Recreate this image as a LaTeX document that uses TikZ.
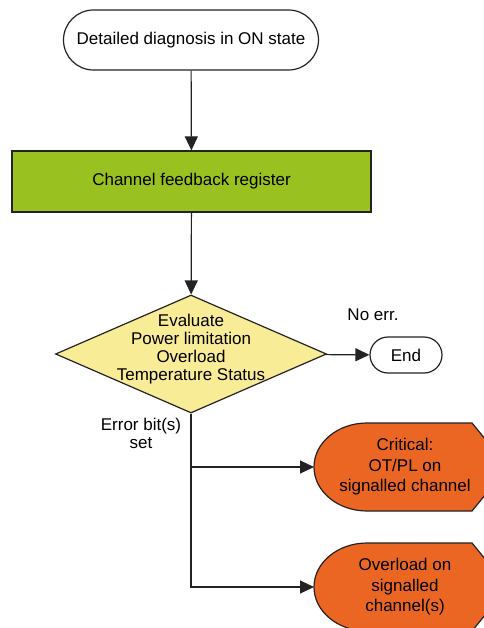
\documentclass[tikz,border=0pt]{standalone}
\usepackage{fontspec}
\setmainfont{Liberation Sans}
\usetikzlibrary{shapes.geometric,arrows.meta}
\definecolor{regGreen}{RGB}{153,193,31}
\definecolor{evalYellow}{RGB}{248,236,150}
\definecolor{faultOrange}{RGB}{235,102,35}
\definecolor{lineGray}{RGB}{35,35,35}
\begin{document}
\begin{tikzpicture}[x=1pt, y=-1pt, >={Triangle[length=14pt,width=13pt]},
    color=lineGray, line width=1.2pt,
    every node/.style={font=\fontsize{17}{18}\selectfont, text=black},
    term/.style={draw, rounded corners=#1, inner sep=0pt},
    regbox/.style={draw, fill=regGreen, minimum width=359pt, minimum height=61pt},
    decision/.style={draw, diamond, fill=evalYellow, inner sep=0pt, minimum width=271pt, minimum height=118pt},
    fault/.style={draw, fill=faultOrange}]
    \useasboundingbox (0,0) rectangle (483,628);

    % start, register, evaluation
    \node(start)[term=30pt, minimum width=255pt, minimum height=60pt] at (191,40) {Detailed diagnosis in ON state};
    \node(reg)[regbox] at (191.5,181.5) {Channel feedback register};
    \node(eval)[decision, label={[align=center, yshift=5pt]center:Evaluate\\Power limitation\\Overload\\Temperature Status}] at (191,354) {};
    \node(end)[term=18pt, minimum width=72pt, minimum height=36pt] at (406,355) {End};

    \draw[->] (start)--(reg);
    \draw[->] (reg)--(eval);
    \draw[->] (eval)--(end);
    \node(noerr) at (373,315) {No err.};
    \node(errset)[align=center] at (141,433) {Error bit(s)\\set};

    % fault reactions
    \foreach \y/\n/\t in {467/crit/{Critical:\\OT/PL on\\signalled channel}, 587/ovl/{Overload on\\signalled\\channel(s)}}
    {\draw[fault] (367,\y-44) arc[start angle=270, end angle=90, x radius=53, y radius=44]
        --(472,\y+44)--(490,\y+22)--(490,\y-22)--(472,\y-44)--cycle;
    \coordinate(\n w) at (314,\y);
    \node(\n)[align=center, font=\fontsize{17}{20.5}\selectfont] at (405,\y) {\t};}

    \draw[->] (eval.south) |- (critw);
    \draw[->] (eval.south) |- (ovlw);
\end{tikzpicture}
\end{document}
